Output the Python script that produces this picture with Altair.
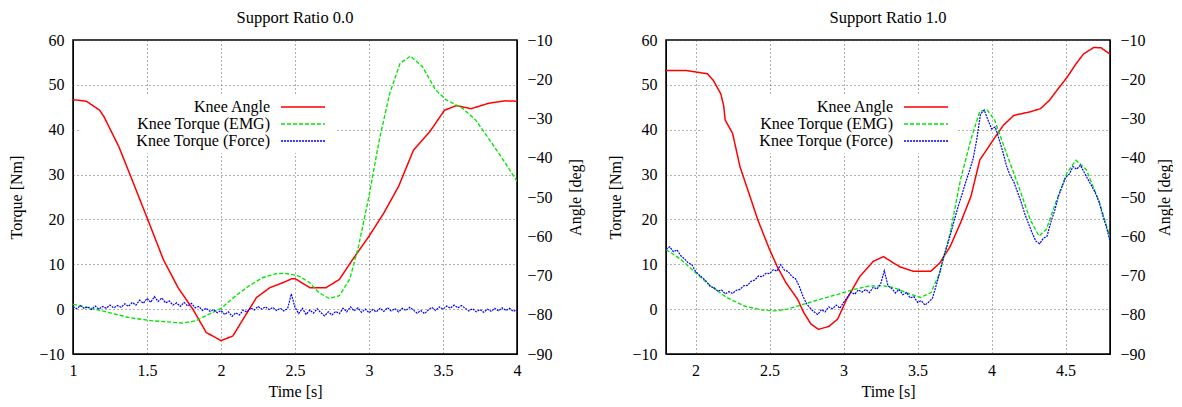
import altair as alt
import numpy as np
import pandas as pd

SERIES = ["Knee Angle", "Knee Torque (EMG)", "Knee Torque (Force)"]
COLORS = ["#ff0000", "#00e600", "#0000ff"]
DASHES = [[1, 0], [4, 2], [2, 1]]
WIDTHS = [1.5, 1.2, 1.0]
FONT = "Liberation Serif"

# ---------------- Support Ratio 0.0 ----------------
t_ang0 = [1.0, 1.09, 1.18, 1.21, 1.31, 1.40, 1.51, 1.61, 1.71, 1.81, 1.90, 2.00, 2.08, 2.15,
          2.24, 2.33, 2.42, 2.48, 2.50, 2.60, 2.71, 2.80, 2.89, 3.00, 3.10, 3.20, 3.30, 3.41,
          3.51, 3.59, 3.69, 3.81, 3.92, 4.0]
ang0 = [-25.2, -25.6, -27.9, -29.6, -37.2, -45.7, -56.2, -65.9, -73.1, -78.6, -84.5, -86.6, -85.4, -81.1,
        -75.6, -73.1, -71.8, -70.8, -70.8, -73.1, -73.1, -71.0, -65.9, -60.0, -54.1, -47.3, -38.1, -33.4,
        -27.9, -26.7, -27.5, -26.1, -25.5, -25.6]

t_emg0 = [1.0, 1.2, 1.38, 1.54, 1.74, 1.83, 1.92, 2.0, 2.10, 2.19, 2.28, 2.37, 2.43, 2.50, 2.53, 2.6,
          2.66, 2.73, 2.80, 2.87, 2.93, 3.0, 3.07, 3.14, 3.21, 3.28, 3.36, 3.45, 3.52, 3.63, 3.72,
          3.83, 3.92, 4.0]
emg0 = [1.1, -0.4, -1.9, -2.6, -3.1, -2.6, -1.1, 0.15, 3.0, 5.2, 7.0, 7.9, 8.0, 7.6, 7.3, 5.9,
        3.7, 2.4, 3.0, 6.7, 14.1, 25.2, 37.8, 48.1, 54.8, 56.4, 54.1, 48.9, 46.7, 44.8, 42.2,
        37.0, 32.6, 28.5]

force0_start, force0_step = 1.0, 0.025
force0 = [0.6, 0.1, 0.8, 0.2, 0.5, -0.1, 0.7, 0.0, 0.6, 0.2,
          0.9, 0.3, 0.8, 0.4, 1.2, 0.6, 1.5, 0.9, 2.0, 1.3,
          2.4, 1.5, 2.8, 1.7, 2.5, 1.4, 1.8, 0.9, 1.4, 0.6,
          1.5, 0.7, 1.3, 0.3, 0.6, -0.3, 0.2, -0.5, -0.1, -0.8,
          -0.3, -1.2, -0.6, -1.6, -0.8, -1.3, -0.2, -0.7, 0.3, -0.2,
          0.6, 0.0, 0.5, -0.1, 0.4, -0.3, 0.2, -0.4, 0.1, 3.4,
          0.4, -1.0, 0.2, -1.2, -0.2, -0.9, 0.1, -0.8, -1.5, -0.6,
          -1.3, -0.5, -1.0, 0.2, -0.6, 0.5, -0.4, 0.3, -0.7, 0.0,
          -0.8, -0.1, -0.6, 0.2, -0.5, 0.3, -0.4, 0.1, -0.6, 0.2,
          -0.3, 0.4, -0.2, -0.9, -0.3, -1.0, -0.2, 0.4, -0.3, 0.5,
          0.0, 0.7, 0.2, 0.9, 0.3, 0.8, 0.2, -0.4, 0.1, -0.6,
          -0.1, -0.7, 0.0, -0.5, 0.2, -0.4, 0.3, -0.3, 0.2, -0.5,
          -0.1]

# ---------------- Support Ratio 1.0 ----------------
t_ang1 = [1.80, 1.94, 2.08, 2.12, 2.17, 2.19, 2.20, 2.25, 2.30, 2.36, 2.42, 2.50, 2.55, 2.61, 2.69,
          2.73, 2.78, 2.83, 2.90, 2.96, 3.02, 3.11, 3.20, 3.27, 3.32, 3.38, 3.47, 3.59, 3.65,
          3.72, 3.79, 3.86, 3.92, 4.01, 4.08, 4.15, 4.26, 4.33, 4.39, 4.44, 4.51, 4.57, 4.62,
          4.69, 4.74, 4.80]
ang1 = [-17.8, -17.8, -18.6, -20.3, -23.7, -26.8, -30.4, -33.8, -42.3, -49.0, -55.8, -63.4, -67.6, -71.8, -76.1,
        -79.4, -82.4, -83.7, -83.0, -81.1, -76.1, -70.2, -66.4, -65.2, -66.4, -67.8, -68.9, -68.9, -66.8,
        -62.6, -56.6, -49.9, -40.6, -35.5, -31.7, -29.2, -28.3, -27.5, -25.4, -22.9, -19.5, -16.1, -13.6,
        -11.9, -12.0, -13.6]

t_emg1 = [1.80, 1.90, 2.0, 2.10, 2.21, 2.33, 2.44, 2.53, 2.62, 2.73, 2.84, 2.96, 3.07, 3.18, 3.27,
          3.34, 3.43, 3.52, 3.59, 3.65, 3.72, 3.79, 3.86, 3.92, 3.97, 4.02, 4.10, 4.19, 4.26,
          4.32, 4.37, 4.44, 4.51, 4.57, 4.64, 4.73, 4.80]
emg1 = [13.3, 11.1, 8.1, 5.2, 2.6, 0.7, -0.15, -0.4, 0.0, 1.1, 2.2, 3.3, 4.4, 5.2, 5.2,
        4.8, 3.6, 2.6, 3.7, 8.1, 17.0, 28.9, 37.8, 44.1, 44.4, 42.2, 34.8, 26.7, 20.0,
        16.3, 17.8, 24.4, 30.4, 33.2, 31.1, 23.7, 16.0]

force1_start, force1_step = 1.8, 0.025
force1 = [13.3, 13.9, 12.8, 13.2, 11.9, 11.2, 10.3, 9.9, 8.4, 7.6,
          6.9, 6.1, 5.0, 4.8, 4.0, 4.3, 3.4, 3.9, 3.5, 4.2,
          4.4, 5.2, 5.3, 6.2, 6.5, 7.4, 7.2, 8.0, 7.9, 8.8,
          8.5, 9.9, 8.7, 8.4, 7.3, 6.8, 5.1, 2.9, 1.2, 0.2,
          -0.6, -1.2, -0.1, -0.6, 0.5, 0.1, 0.9, 0.2, 1.5, 2.6,
          3.8, 3.3, 4.3, 3.8, 4.4, 3.7, 4.9, 4.5, 5.6, 8.6,
          5.2, 4.6, 3.6, 4.4, 3.2, 3.7, 2.5, 2.8, 1.5, 1.9,
          0.9, 1.6, 2.4, 5.2, 8.2, 11.6, 14.2, 17.0, 20.1, 23.0,
          25.6, 28.3, 30.8, 33.5, 37.9, 43.5, 44.4, 42.2, 40.2, 40.6,
          37.9, 35.2, 32.0, 29.8, 28.4, 26.1, 23.8, 21.2, 19.0, 16.9,
          15.1, 14.6, 15.8, 16.3, 19.4, 21.8, 25.0, 27.2, 29.4, 30.1,
          31.8, 31.2, 32.1, 30.5, 29.0, 27.5, 26.0, 24.0, 21.0, 18.4,
          15.2]

torque_ticks = [-10, 0, 10, 20, 30, 40, 50, 60]
angle_ticks = [-90, -80, -70, -60, -50, -40, -30, -20, -10]
xticks0 = [1, 1.5, 2, 2.5, 3, 3.5, 4]
xticks1 = [2, 2.5, 3, 3.5, 4, 4.5]

PW, PH = 444, 314
LEG_ROWS = [67, 84, 101]


def key_box(label_end, sym_x0):
    return [alt.Chart(pd.DataFrame({"k": [0]})).mark_rect(fill="white").encode(
        x=alt.value(label_end - 190), x2=alt.value(sym_x0 + 54),
        y=alt.value(LEG_ROWS[0] - 11), y2=alt.value(LEG_ROWS[-1] + 12))]


def key_entries(label_end, sym_x0):
    """gnuplot-style key: right-aligned label followed by a line sample."""
    layers = []
    for i, s in enumerate(SERIES):
        d = pd.DataFrame({"label": [s]})
        layers.append(alt.Chart(d).mark_text(
            align="right", baseline="middle", font=FONT, fontSize=16, color="black"
        ).encode(x=alt.value(label_end), y=alt.value(LEG_ROWS[i]), text="label:N"))
        layers.append(alt.Chart(d).mark_rule(
            color=COLORS[i], strokeDash=DASHES[i], strokeWidth=1.5
        ).encode(x=alt.value(sym_x0), x2=alt.value(sym_x0 + 44), y=alt.value(LEG_ROWS[i])))
    return layers


def panel(title, t_ang, ang, t_emg, emg, f_start, f_step, force, xdom, xticks,
          label_end, sym_x0, left_pad, right_pad):
    t_force = np.round(f_start + f_step * np.arange(len(force)), 4)
    df_ang = pd.DataFrame({"t": t_ang, "v": ang, "series": SERIES[0]})
    df_tq = pd.concat([
        pd.DataFrame({"t": t_emg, "v": emg, "series": SERIES[1]}),
        pd.DataFrame({"t": t_force, "v": force, "series": SERIES[2]}),
    ])
    color = alt.Color("series:N", scale=alt.Scale(domain=SERIES, range=COLORS), legend=None)
    dash = alt.StrokeDash("series:N", scale=alt.Scale(domain=SERIES, range=DASHES), legend=None)
    sw = alt.StrokeWidth("series:N", scale=alt.Scale(domain=SERIES, range=WIDTHS), legend=None)
    x = alt.X("t:Q", scale=alt.Scale(domain=xdom, nice=False, zero=False),
              axis=alt.Axis(values=xticks, format="~g", title="Time [s]", grid=True,
                            labelPadding=8, titlePadding=5))
    ang_layer = alt.Chart(df_ang).mark_line(clip=True).encode(
        x=x,
        y=alt.Y("v:Q", scale=alt.Scale(domain=[-90, -10], nice=False, zero=False),
                axis=alt.Axis(orient="right", title="Angle [deg]", values=angle_ticks,
                              grid=False, titleAngle=270, titleBaseline="top",
                              labelPadding=10, titlePadding=right_pad)),
        color=color, strokeDash=dash, strokeWidth=sw)
    tq_layer = alt.Chart(df_tq).mark_line(clip=True).encode(
        x=x,
        y=alt.Y("v:Q", scale=alt.Scale(domain=[-10, 60], nice=False, zero=False),
                axis=alt.Axis(orient="left", title="Torque [Nm]", values=torque_ticks, grid=True,
                              labelPadding=9, titlePadding=left_pad)),
        color=color, strokeDash=dash, strokeWidth=sw)
    layers = key_box(label_end, sym_x0) + [ang_layer, tq_layer] + key_entries(label_end, sym_x0)
    return alt.layer(*layers).resolve_scale(y="independent").properties(
        width=PW, height=PH,
        title=alt.TitleParams(title, frame="group", anchor="middle"))


p0 = panel("Support Ratio 0.0", t_ang0, ang0, t_emg0, emg0, force0_start, force0_step, force0,
           [1, 4], xticks0, 197, 208, 14, 15)
p1 = panel("Support Ratio 1.0", t_ang1, ang1, t_emg1, emg1, force1_start, force1_step, force1,
           [1.8, 4.8], xticks1, 227, 238, 8, 11)

chart = alt.hconcat(p0, p1, spacing=23).properties(padding=0).configure_view(
    stroke="black", strokeWidth=1.5
).configure_axis(
    labelFont=FONT, titleFont=FONT, labelFontSize=16, titleFontSize=16,
    titleFontWeight="normal", labelColor="black", titleColor="black",
    domainColor="black", ticks=False, gridColor="#555", gridDash=[1, 3],
    gridWidth=1, gridOpacity=0.9, labelFlush=False
).configure_title(font=FONT, fontSize=16.5, fontWeight="normal", color="black", offset=6)

chart.save("out.html", embed_options={"renderer": "svg", "actions": False})
